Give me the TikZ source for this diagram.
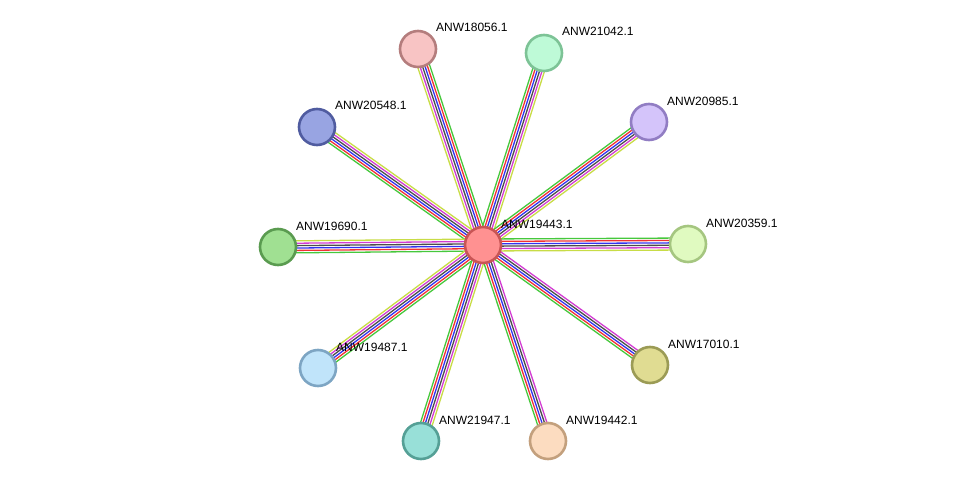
\documentclass[tikz,border=0pt]{standalone}
\usepackage{fontspec}
\setmainfont{Liberation Sans}
\usetikzlibrary{calc,backgrounds}
\definecolor{eG}{RGB}{70,200,60}
\definecolor{eR}{RGB}{240,50,50}
\definecolor{eB}{RGB}{50,50,240}
\definecolor{eK}{RGB}{75,75,75}
\definecolor{eM}{RGB}{210,60,210}
\definecolor{eY}{RGB}{200,220,70}
\tikzset{
  prot/.style={circle, minimum size=36pt, inner sep=0pt, line width=2.6pt},
  lbl/.style={font=\fontsize{12}{14}\selectfont, inner sep=0pt, anchor=base west, text=black},
  linkln/.style={line width=1.3pt}
}
\newcommand\eline[4]{\draw[linkln,#1] ($(#3)!#2pt!90:(#4)$) -- ($(#4)!#2pt!-90:(#3)$);}
% #1 = sign (1 or -1), #2 = target node
\newcommand\bundlesix[2]{%
  \eline{eG}{\fpeval{#1*6.0}}{c}{#2}
  \eline{eR}{\fpeval{#1*3.6}}{c}{#2}
  \eline{eB}{\fpeval{#1*1.2}}{c}{#2}
  \eline{eK}{\fpeval{#1*-1.2}}{c}{#2}
  \eline{eM}{\fpeval{#1*-3.6}}{c}{#2}
  \eline{eY}{\fpeval{#1*-6.0}}{c}{#2}}
\newcommand\bundlefive[2]{%
  \eline{eG}{\fpeval{#1*4.8}}{c}{#2}
  \eline{eR}{\fpeval{#1*2.4}}{c}{#2}
  \eline{eB}{0}{c}{#2}
  \eline{eK}{\fpeval{#1*-2.4}}{c}{#2}
  \eline{eM}{\fpeval{#1*-4.8}}{c}{#2}}
\begin{document}
\begin{tikzpicture}[x=1pt,y=-1pt]
\useasboundingbox (0,0) rectangle (975,487);
\node[prot, fill={rgb,255:red,255;green,145;blue,145}, draw={rgb,255:red,200;green,85;blue,85}] (c) at (483,245) {};
\node[prot, fill={rgb,255:red,248;green,196;blue,196}, draw={rgb,255:red,180;green,125;blue,125}] (n1) at (418,49) {};
\node[prot, fill={rgb,255:red,190;green,250;blue,215}, draw={rgb,255:red,125;green,195;blue,150}] (n2) at (544,53) {};
\node[prot, fill={rgb,255:red,212;green,196;blue,250}, draw={rgb,255:red,145;green,125;blue,195}] (n3) at (649,122) {};
\node[prot, fill={rgb,255:red,152;green,164;blue,226}, draw={rgb,255:red,80;green,92;blue,160}] (n4) at (317,127) {};
\node[prot, fill={rgb,255:red,160;green,224;blue,146}, draw={rgb,255:red,90;green,155;blue,80}] (n5) at (278,247) {};
\node[prot, fill={rgb,255:red,224;green,250;blue,192}, draw={rgb,255:red,165;green,198;blue,128}] (n6) at (688,244) {};
\node[prot, fill={rgb,255:red,224;green,220;blue,146}, draw={rgb,255:red,155;green,155;blue,85}] (n7) at (650,365) {};
\node[prot, fill={rgb,255:red,192;green,228;blue,250}, draw={rgb,255:red,125;green,165;blue,195}] (n8) at (318,368) {};
\node[prot, fill={rgb,255:red,152;green,224;blue,216}, draw={rgb,255:red,85;green,160;blue,150}] (n9) at (421,441) {};
\node[prot, fill={rgb,255:red,252;green,220;blue,192}, draw={rgb,255:red,195;green,160;blue,125}] (n10) at (548,441) {};
\begin{scope}[on background layer]
  \bundlesix{-1}{n1}
  \bundlesix{1}{n2}
  \bundlesix{1}{n3}
  \bundlesix{1}{n4}
  \bundlesix{1}{n5}
  \bundlesix{1}{n6}
  \bundlefive{-1}{n7}
  \bundlesix{1}{n8}
  \bundlesix{-1}{n9}
  \bundlefive{-1}{n10}
\end{scope}
\node[lbl] (lc) at ($(c)+(18,-17)$) {ANW19443.1};
\node[lbl] (l1) at ($(n1)+(18,-17)$) {ANW18056.1};
\node[lbl] (l2) at ($(n2)+(18,-17)$) {ANW21042.1};
\node[lbl] (l3) at ($(n3)+(18,-17)$) {ANW20985.1};
\node[lbl] (l4) at ($(n4)+(18,-17)$) {ANW20548.1};
\node[lbl] (l5) at ($(n5)+(18,-17)$) {ANW19690.1};
\node[lbl] (l6) at ($(n6)+(18,-17)$) {ANW20359.1};
\node[lbl] (l7) at ($(n7)+(18,-17)$) {ANW17010.1};
\node[lbl] (l8) at ($(n8)+(18,-17)$) {ANW19487.1};
\node[lbl] (l9) at ($(n9)+(18,-17)$) {ANW21947.1};
\node[lbl] (l10) at ($(n10)+(18,-17)$) {ANW19442.1};
\end{tikzpicture}
\end{document}
